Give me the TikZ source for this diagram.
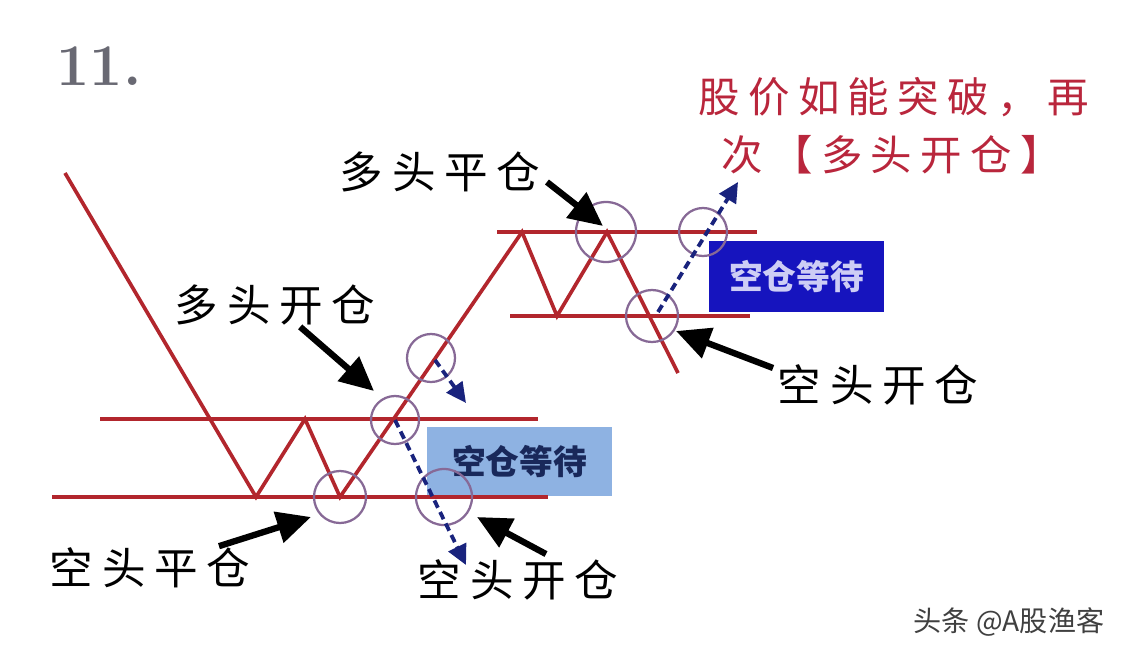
\documentclass[tikz,border=0pt]{standalone}
\usepackage{fontspec}
\newfontfamily\cjk[LetterSpace=20]{Noto Sans CJK SC}
\newfontfamily\cjkbox{Noto Sans CJK SC}
\usetikzlibrary{arrows.meta,positioning}
\definecolor{pricered}{RGB}{178,38,45}
\definecolor{ringc}{RGB}{135,105,150}
\definecolor{dashblue}{RGB}{25,35,125}
\definecolor{notered}{RGB}{185,38,60}
\definecolor{waitlight}{RGB}{142,178,226}
\definecolor{waitdark}{RGB}{22,20,190}
\definecolor{waitink}{RGB}{25,40,90}
\definecolor{waitpale}{RGB}{205,205,245}
\definecolor{numgray}{RGB}{105,105,115}
\newcommand{\lblfont}{\cjk\fontsize{31}{32}\selectfont}
\newcommand{\notefont}{\cjk\fontsize{29.5}{30}\selectfont}
\tikzset{
  pline/.style={draw=pricered, line width=2.6pt, line join=miter},
  ring/.style={circle, draw=ringc, line width=1.6pt, inner sep=0pt},
  lbl/.style={font=\lblfont, text=black, inner sep=1pt},
  fatarrow/.style={line width=4.5pt, -{Triangle[length=0.85cm,width=0.78cm]}},
  dasharrow/.style={dashblue, line width=2.7pt, dash pattern=on 0.2cm off 0.12cm,
    -{Triangle[length=0.5cm,width=0.48cm]}},
  waitbox/.style={rectangle, inner sep=0pt, font=\cjkbox\bfseries\fontsize{24}{24}\selectfont}
}

\begin{document}
\begin{tikzpicture}[x=0.025cm, y=-0.025cm]
\useasboundingbox (0,0) rectangle (1128,658);
\fill[white] (0,0) rectangle (1128,658);

% waiting boxes
\node[waitbox, fill=waitlight, text=waitink, minimum width=4.625cm, minimum height=1.725cm] (waitA) at (519.5,461.5) {空仓等待};
\node[waitbox, fill=waitdark, text=waitpale, minimum width=4.375cm, minimum height=1.775cm] (waitB) at (796.5,276.5) {空仓等待};

% channels
\draw[pline] (100,419) -- (538,419);
\draw[pline] (52,497) -- (548,497);
\draw[pline] (497,232) -- (757,232);
\draw[pline] (510,316) -- (750,316);

% price path
\draw[pline] (65,173) -- (256,497) -- (305,419) -- (340,497) -- (522,232)
  -- (557,316) -- (607,232) -- (678,373);

% rings
\node[ring, minimum size=1.3cm] (r1) at (340,497) {};
\node[ring, minimum size=1.4cm] (r2) at (444,497) {};
\node[ring, minimum size=1.2cm] (r3) at (395,420) {};
\node[ring, minimum size=1.2cm] (r4) at (431,358) {};
\node[ring, minimum size=1.5cm] (r5) at (606,232) {};
\node[ring, minimum size=1.2cm] (r6) at (703,232) {};
\node[ring, minimum size=1.3cm] (r7) at (652,316) {};

% dashed moves
\coordinate (d1) at (466,565);
\coordinate (d2) at (466,403);
\coordinate (d3) at (738,182);
\draw[dasharrow] (r3.center) -- (d1);
\draw[dasharrow] ([shift={(4,2)}]r4.center) -- (d2);
\draw[dasharrow] ([shift={(6,-4)}]r7.center) -- (d3);

% labels
\node[font=\bfseries\fontsize{42}{42}\selectfont, text=numgray] (num) at (99,66) {11.};
\node[anchor=west, font=\notefont, text=notered, inner sep=1pt] (noteA) at (697,97) {股价如能突破，再};
\node[anchor=west, font=\notefont, text=notered, inner sep=1pt] (noteB) at (720,155) {次【多头开仓】};
\node[lbl] (lblLC) at (440,172) {多头平仓};
\node[lbl] (lblLO) at (275,305) {多头开仓};
\node[lbl] (lblSC) at (150,568) {空头平仓};
\node[lbl] (lblSO) at (518,580) {空头开仓};
\node[lbl] (lblSOb) at (878,385) {空头开仓};
\node[font=\cjkbox\fontsize{20}{20}\selectfont, text=black!75] (mark) at (1009,622) {头条 @A股渔客};

% pointers
\coordinate (tLC) at (603,226);
\coordinate (tLO) at (374,391);
\coordinate (tSC) at (311,517);
\coordinate (tSO) at (477,517);
\coordinate (tSOb) at (676,331);
\draw[fatarrow] ([shift={(5,10)}]lblLC.east) -- (tLC);
\draw[fatarrow] (lblLO) -- (tLO);
\draw[fatarrow] (lblSC) -- (tSC);
\draw[fatarrow] ([shift={(28,-4)}]lblSO.north) -- (tSO);
\draw[fatarrow] ([shift={(-3,-17)}]lblSOb.west) -- (tSOb);
\end{tikzpicture}
\end{document}
